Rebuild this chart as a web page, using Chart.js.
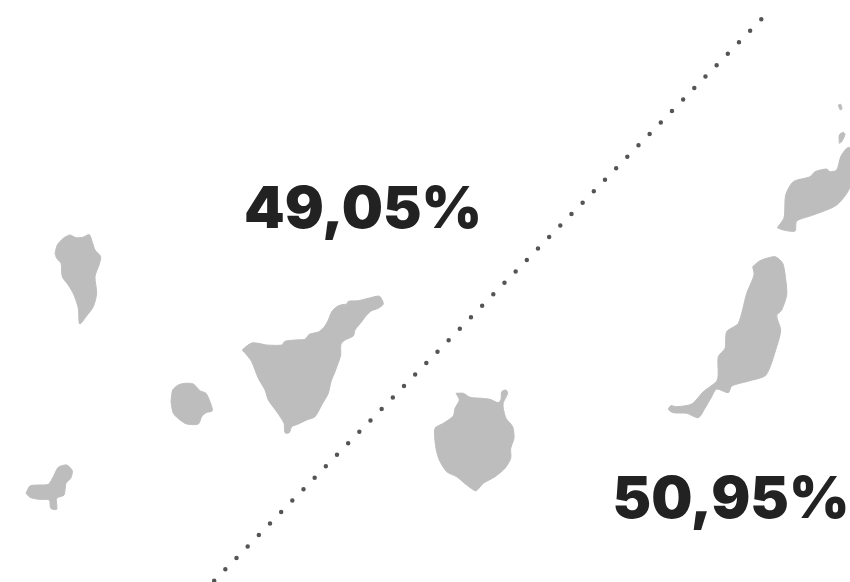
<!DOCTYPE html>
<html>
<head>
<meta charset="utf-8">
<title>Canarias</title>
<script src="https://cdn.jsdelivr.net/npm/chart.js@4/dist/chart.umd.min.js"></script>
<style>
  html, body { margin: 0; padding: 0; background: #fff; overflow: hidden; }
  #mapChart { display: block; }
</style>
</head>
<body>
<canvas id="mapChart" width="850" height="582"></canvas>
<script>
  // outlines, [x, y] in map units (y goes down)
  var laPalma = [[55,253.3],[57.3,245],[63.3,238.3],[70,235],[76,237.7],[82.7,237.3],[89.3,234.7],[92.7,243.3],[95,250],[100.7,256.7],[99,265],[95,276.7],[96.7,293.3],[93.3,306.7],[87.3,315],[79.7,324],[78.3,308.3],[74,295],[68.3,285],[62.3,276.7],[61,263.3],[56.7,258.3]];
  var laGomera = [[171,401.7],[172.7,390],[178.3,385],[185,383.3],[193.3,384],[200,390.7],[206,393.3],[210,401.7],[212.3,410.7],[206,412.7],[201.7,416.7],[198.3,424],[186.7,424],[180,420],[173.3,413.3]];
  var elHierro = [[26,493.3],[30,486],[38.3,485],[48.3,484.3],[53.3,476.7],[58.3,467.3],[66.7,465],[72.3,470.7],[70.7,478.3],[66,483.3],[64,495],[56.7,498.3],[56.7,509.3],[50.7,508.3],[49.3,500],[38.3,499.3],[30,497.3]];
  var tenerife = [[242.3,350],[246.7,346],[251.7,343],[258.3,343.3],[266.7,345],[281.7,345],[285,341.3],[295,340],[305,339.3],[309.3,334.3],[318.3,332],[324,327.3],[328.3,320],[331.7,311.7],[336.7,306.7],[341.7,304.7],[346.7,304],[348.3,301.3],[358.3,300.7],[368.3,298.3],[378.3,296],[380.7,297.3],[383.3,304],[378.3,308.3],[371.7,310.7],[366.7,315],[361.7,321.7],[355,330],[353.3,336],[345,340],[341,344],[340.7,355],[339.3,360],[335,371.7],[331,381.7],[328.3,393.3],[321.7,405],[315,416.7],[306.7,420],[298.3,424],[291.7,426.7],[289.3,432.7],[285,432.7],[284,423.3],[276.7,411.7],[268.3,400],[265,390],[258.3,378.3],[251.7,361.7],[246.7,355]];
  var granCanaria = [[456,393.3],[463.3,393.3],[470,397.3],[481.7,398.3],[490,399.3],[498.3,402.7],[501,399.3],[501.7,391.7],[506,390],[507.7,393.3],[503.3,402.7],[503.3,408.3],[506,418.3],[512.7,426.7],[514,438.3],[510.7,448.3],[510.7,458.3],[505,468.3],[495,476.7],[483.3,483.3],[476,490.7],[466.7,485],[456.7,476.7],[446.7,471.7],[439.3,460],[435.7,446.7],[435,428.3],[443.3,423.3],[453.3,416],[455,408.3],[459.3,400]];
  var fuerteventura = [[752.7,266.7],[760,260.7],[775,256.7],[782.7,263.3],[786,281.7],[786.7,295],[781.7,310],[776.7,315.7],[780.7,330],[776.7,346.7],[766,375],[750,380.7],[731.7,386],[728.3,392.7],[716.7,389],[711.7,396.7],[705,408.3],[698.3,417.7],[686.7,413.3],[673.3,412.7],[668.3,409.3],[671,405.7],[676.7,406.7],[691.7,404],[703.3,391.7],[717.3,380],[718.3,356.7],[725,348.3],[726.7,331.7],[738.3,323.3],[746.7,293.3],[754,275]];
  var lanzarote = [[777.3,227.7],[784,217.7],[785.7,195],[793.3,181.7],[810,176.7],[815,171.7],[826.7,169],[830,171.7],[836.7,170],[840.7,156.7],[846.7,148.3],[850,147.7],[850,186.7],[836.7,205],[813.3,215],[796.7,221],[795,231],[783.3,230]];
  var graciosa = [[839.3,143.3],[839.3,135],[843.3,132.3],[845,134.3],[841.7,141.7]];
  var alegranza = [[838.3,105],[840.7,104.3],[842,109],[840,109.7]];

  var islands = [laPalma, laGomera, elHierro, tenerife, granCanaria, fuerteventura, lanzarote, graciosa, alegranza];
  var divider = [[761.3,19.3],[213.5,581.5]];

  var labelTexts = ['49,05%', '50,95%'];
  var labelX = [363, 731];
  var labelY = [211, 501];

  function toPoints(outline) {
    return outline.map(function (p) { return { x: p[0], y: p[1] }; });
  }

  var datasets = islands.map(function (outline) {
    return {
      data: toPoints(outline.concat([outline[0]])),
      showLine: true,
      fill: 'shape',
      backgroundColor: '#bdbdbd',
      borderColor: '#bdbdbd',
      borderWidth: 1,
      pointRadius: 0,
      tension: 0.25
    };
  });

  datasets.push({
    data: toPoints(divider),
    showLine: true,
    fill: false,
    borderColor: '#555555',
    borderWidth: 4.5,
    borderDash: [0, 16],
    borderCapStyle: 'round',
    pointRadius: 0
  });

  // percentages go on top of the map
  var percentLabels = {
    id: 'percentLabels',
    afterDatasetsDraw: function (chart) {
      var ctx = chart.ctx;
      ctx.save();
      ctx.font = '900 58px Inter';
      ctx.fillStyle = '#222222';
      ctx.textAlign = 'center';
      ctx.textBaseline = 'middle';
      labelTexts.forEach(function (text, i) {
        ctx.fillText(text, chart.scales.x.getPixelForValue(labelX[i]), chart.scales.y.getPixelForValue(labelY[i]));
      });
      ctx.restore();
    }
  };

  var ctx = document.getElementById('mapChart').getContext('2d');

  new Chart(ctx, {
    type: 'scatter',
    data: { datasets: datasets },
    options: {
      responsive: false,
      animation: false,
      layout: { padding: 0 },
      plugins: { legend: { display: false }, tooltip: { enabled: false }, title: { display: false } },
      scales: {
        x: { type: 'linear', min: 0, max: 850, display: false },
        y: { type: 'linear', min: 0, max: 582, reverse: true, display: false }
      }
    },
    plugins: [percentLabels]
  });
</script>
</body>
</html>
